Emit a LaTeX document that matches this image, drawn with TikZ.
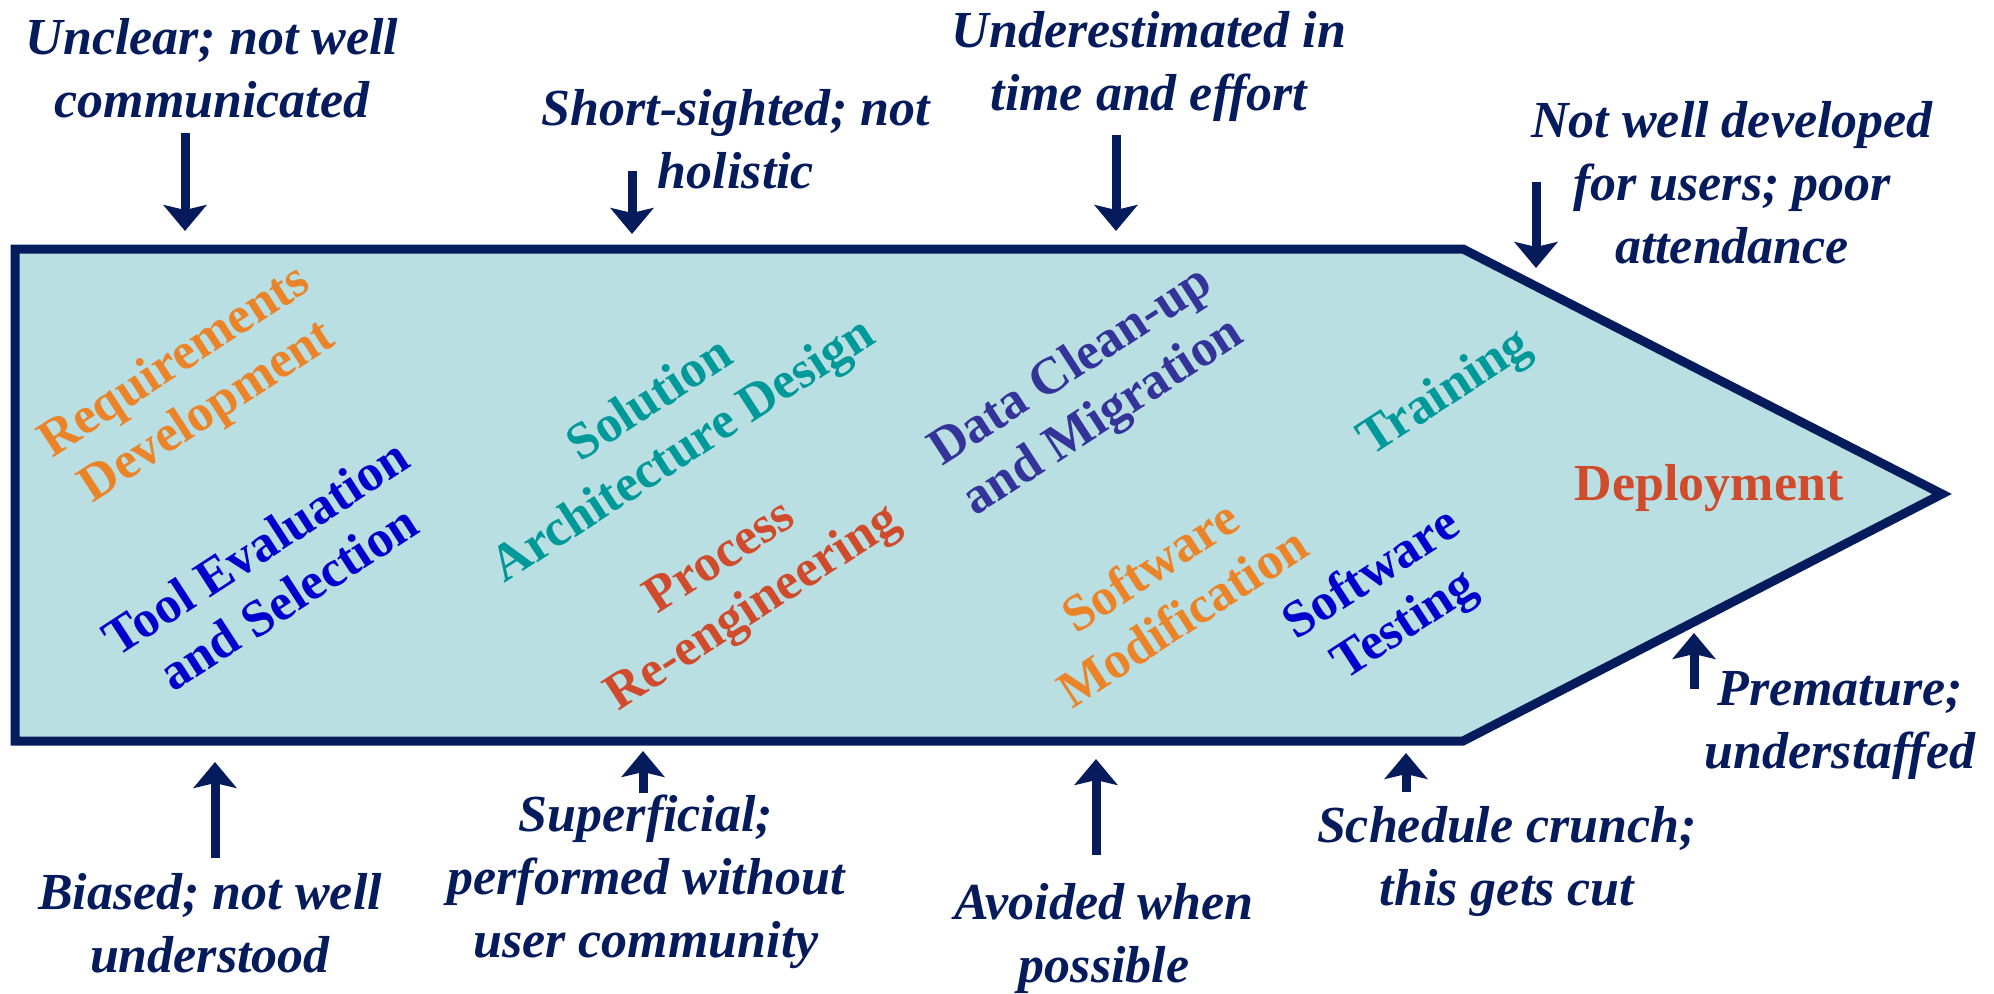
\documentclass[tikz,border=0pt]{standalone}
\usepackage{fontspec}
\setmainfont{Liberation Serif}
\usetikzlibrary{arrows.meta}
\definecolor{navy}{RGB}{5,27,92}
\definecolor{fillblue}{RGB}{185,223,227}
\definecolor{corange}{RGB}{235,132,40}
\definecolor{cteal}{RGB}{0,153,153}
\definecolor{cblue}{RGB}{0,0,204}
\definecolor{cred}{RGB}{208,74,44}
\definecolor{cindigo}{RGB}{51,51,153}
\begin{document}
\begin{tikzpicture}[x=1pt,y=-1pt,
  note/.style={font=\fontsize{52}{63}\selectfont\bfseries\itshape, text=navy, align=center, inner sep=0pt, anchor=base},
  phase/.style={font=\fontsize{52}{60}\selectfont\bfseries, align=center, inner sep=0pt, rotate=33},
  arr/.style={draw=navy, line width=9pt, -{Stealth[width=43pt,length=26pt,inset=5pt]}},
  arrowshape/.style={fill=fillblue, draw=navy, line width=9pt, miter limit=10}]
\useasboundingbox (0,0) rectangle (1994,993);
\path[arrowshape] (15,249) -- (1463,249) -- (1942,494) -- (1463,741) -- (15,741) -- cycle;

% notes (anchored at the baseline of their last line)
\node[note] (n1) at (212,117) {Unclear; not well\\communicated};
\node[note] (n2) at (736,188) {Short-sighted; not\\holistic};
\node[note] (n3) at (1149,110) {Underestimated in\\time and effort};
\node[note] (n4) at (1732,263) {Not well developed\\for users; poor\\attendance};
\node[note] (n5) at (1840,768) {Premature;\\understaffed};
\node[note] (n6) at (210,972) {Biased; not well\\understood};
\node[note] (n7) at (646,957) {Superficial;\\performed without\\user community};
\node[note] (n8) at (1104,982) {Avoided when\\possible};
\node[note] (n9) at (1507,905) {Schedule crunch;\\this gets cut};

% phases
\node[phase, text=corange] (p1) at (192,388) {Requirements\\Development};
\node[phase, text=cblue] (p2) at (272,572) {Tool Evaluation\\and Selection};
\node[phase, text=cteal] (p3) at (668,427) {Solution\\Architecture Design};
\node[phase, text=cred] (p4) at (738,585) {Process\\Re-engineering};
\node[phase, text=cindigo] (p5) at (1088,393) {Data Clean-up\\and Migration};
\node[phase, text=corange] (p6) at (1166,591) {Software\\Modification};
\node[phase, text=cteal] (p7) at (1446,394) {Training};
\node[phase, text=cblue] (p8) at (1389,601) {Software\\Testing};
\node[font=\fontsize{52}{60}\selectfont\bfseries, text=cred, inner sep=0pt, anchor=base] (p9) at (1709,500) {Deployment};

% arrows
\coordinate (a1s) at (185,133); \coordinate (a1e) at (185,231);
\coordinate (a2s) at (632,171); \coordinate (a2e) at (632,234);
\coordinate (a3s) at (1116,135); \coordinate (a3e) at (1116,231);
\coordinate (a4s) at (1536,182); \coordinate (a4e) at (1536,268);
\coordinate (a5s) at (1694,689); \coordinate (a5e) at (1694,633);
\coordinate (a6s) at (215,858); \coordinate (a6e) at (215,762);
\coordinate (a7s) at (643,793); \coordinate (a7e) at (643,751);
\coordinate (a8s) at (1096,855); \coordinate (a8e) at (1096,759);
\coordinate (a9s) at (1406,792); \coordinate (a9e) at (1406,753);
\foreach \i in {1,...,9}{\draw[arr] (a\i s) -- (a\i e);}
\end{tikzpicture}
\end{document}
